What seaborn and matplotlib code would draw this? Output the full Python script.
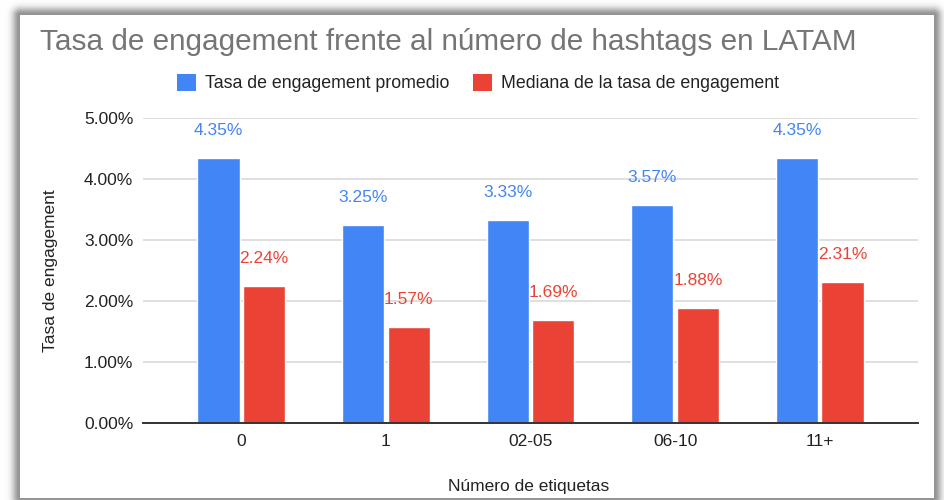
import numpy as np
import pandas as pd
import matplotlib
matplotlib.use("Agg")
import matplotlib.pyplot as plt
from matplotlib.patches import Patch
from matplotlib.ticker import FuncFormatter
import seaborn as sns

categories = ["0", "1", "02-05", "06-10", "11+"]
promedio = [4.35, 3.25, 3.33, 3.57, 4.35]
mediana = [2.24, 1.57, 1.69, 1.88, 2.31]
series_names = ["Tasa de engagement promedio", "Mediana de la tasa de engagement"]
y_ticks = [0, 1, 2, 3, 4, 5]

BLUE = "#4285F4"
RED = "#EA4335"

df = pd.DataFrame({
    "categoria": categories * 2,
    "valor": promedio + mediana,
    "serie": [series_names[0]] * len(categories) + [series_names[1]] * len(categories),
})

sns.set_theme(style="white")
plt.rcParams["font.family"] = ["Liberation Sans", "DejaVu Sans"]

W, H = 944, 500
fig = plt.figure(figsize=(W / 100, H / 100), dpi=100)
fig.patch.set_facecolor("white")

# card with a soft drop shadow behind the chart
bg = fig.add_axes([0, 0, 1, 1], zorder=-10)
yy, xx = np.mgrid[0:H, 0:W]
x0, x1, y0, y1 = 20, 933, 15, 497
dx = np.maximum(np.maximum(x0 - xx, xx - x1), 0)
dy = np.maximum(np.maximum(y0 - yy, yy - y1), 0)
d = np.hypot(dx, dy)
shade = 1 - 0.42 * np.exp(-((d - 1) / 7.0) ** 2)
shade[(dx == 0) & (dy == 0)] = 1.0
img = np.dstack([shade, shade, shade])
bg.imshow(img, extent=(0, W, H, 0), aspect="auto", interpolation="bilinear")
bg.set_xlim(0, W)
bg.set_ylim(H, 0)
bg.axis("off")

ax = fig.add_axes([143 / W, 1 - 423 / H, 775 / W, 305 / H])
ax.set_facecolor("none")

sns.barplot(data=df, x="categoria", y="valor", hue="serie",
            palette=[BLUE, RED], width=0.63, gap=0.07,
            order=categories, hue_order=series_names,
            saturation=1, legend=False, ax=ax, zorder=3)

# value labels above each bar
for cont, color in zip(ax.containers, [BLUE, RED]):
    for bar in cont:
        v = bar.get_height()
        ax.annotate(f"{v:.2f}%", (bar.get_x() + bar.get_width() / 2, v),
                    xytext=(0, 14.5), textcoords="offset points",
                    ha="center", va="bottom", color=color, fontsize=12.5)

ax.set_ylim(0, 5)
ax.set_xlim(-0.68, 4.68)
ax.set_yticks(y_ticks)
ax.yaxis.set_major_formatter(FuncFormatter(lambda v, p: f"{v:.2f}%"))
ax.grid(axis="y", color="#d9d9d9", linewidth=1.2, zorder=0)
ax.grid(axis="x", visible=False)
for s in ["top", "right", "left"]:
    ax.spines[s].set_visible(False)
ax.spines["bottom"].set_color("#333333")
ax.spines["bottom"].set_linewidth(1.4)
ax.spines["bottom"].set_zorder(4)
ax.tick_params(axis="both", length=0, labelsize=12.5, labelcolor="#222222")
ax.tick_params(axis="y", pad=7)
ax.tick_params(axis="x", pad=8)

ax.set_xlabel("Número de etiquetas", fontsize=12.5, color="#222222")
ax.set_ylabel("Tasa de engagement", fontsize=12.5, color="#222222")
ax.xaxis.set_label_coords(0.497, -0.182)
ax.yaxis.set_label_coords(-0.11, 0.5)

fig.text(40 / W, 1 - 42 / H, "Tasa de engagement frente al número de hashtags en LATAM",
         fontsize=21.4, color="#757575", ha="left", va="center")

handles = [Patch(facecolor=BLUE, edgecolor="none"), Patch(facecolor=RED, edgecolor="none")]
fig.legend(handles, series_names, loc="center", bbox_to_anchor=(478 / W, 1 - 83 / H),
           ncol=2, frameon=False, fontsize=12.8, handlelength=1.1, handleheight=1.1,
           handletextpad=0.5, columnspacing=1.3, labelcolor="#222222")

fig.savefig("out.png", dpi=100)
